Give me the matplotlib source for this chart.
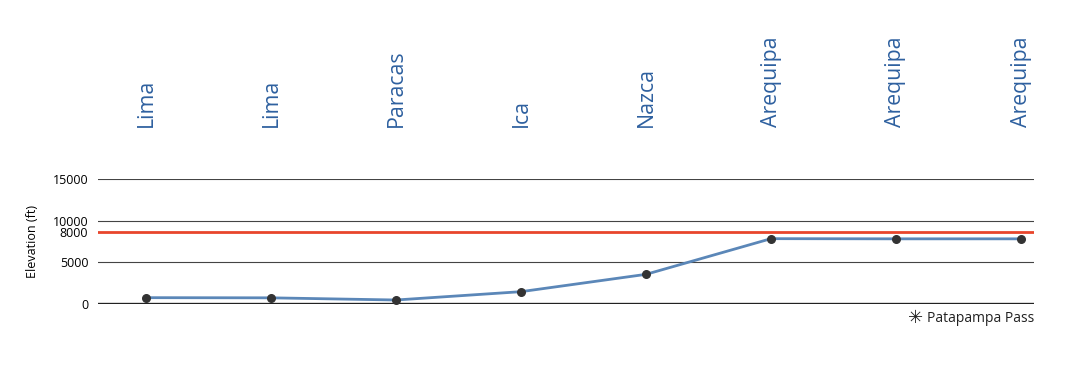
import matplotlib
matplotlib.use('Agg')
import matplotlib.pyplot as plt
import matplotlib.transforms as mtransforms

# daten
orte = ['Lima', 'Lima', 'Paracas', 'Ica', 'Nazca', 'Arequipa', 'Arequipa', 'Arequipa']
hoehe = [760, 740, 480, 1480, 3560, 7840, 7820, 7820]
# rote linie: beschriftet mit 8000, im bild aber etwas hoeher gezeichnet
grenze = 8600
grenze_text = '8000'
gitter = [0, 5000, 10000, 15000]

plt.rcParams['font.family'] = ['Open Sans', 'DejaVu Sans']

fig = plt.figure(figsize=(10.67, 3.75), dpi=100)
ax = fig.add_axes([98 / 1067, 71 / 375, 936 / 1067, 125 / 375])

x = list(range(len(orte)))

# gitterlinien
for t in gitter[1:]:
    ax.axhline(t, color='#444444', linewidth=0.8, zorder=1)
ax.axhline(0, color='#222222', linewidth=2.4, zorder=1)

# rote linie
ax.axhline(grenze, color='#e8452c', linewidth=2, zorder=2)

# hoehenprofil
ax.plot(x, hoehe, color='#5b87b8', linewidth=2, zorder=3)
ax.scatter(x, hoehe, color='#333333', s=30, zorder=4)

ax.set_xlim(-0.384, 7.104)
ax.set_ylim(0, 15000)
ticks = [0, 5000, grenze, 10000, 15000]
ax.set_yticks(ticks)
ax.set_yticklabels(['0', '5000', grenze_text, '10000', '15000'], fontsize=9)
ax.tick_params(axis='y', length=0, pad=7)
ax.set_xticks([])
for s in ax.spines.values():
    s.set_visible(False)
ax.set_ylabel('Elevation (ft)', fontsize=9, labelpad=10)

# ortsnamen oben
trans = mtransforms.blended_transform_factory(ax.transData, ax.transAxes)
for i, name in enumerate(orte):
    ax.text(i, 1.416, name, rotation=90, ha='center', va='bottom',
            fontsize=15.3, color='#2e609f', transform=trans)

# legende unten rechts
ax.text(1.0, -0.12, 'Patapampa Pass', ha='right', va='center',
        fontsize=10, color='#222222', transform=ax.transAxes)
ax.text(0.873, -0.115, '\u2733', ha='center', va='center',
        fontsize=13, color='#222222', transform=ax.transAxes,
        family=['DejaVu Sans'])

plt.savefig('out.png', dpi=100)
